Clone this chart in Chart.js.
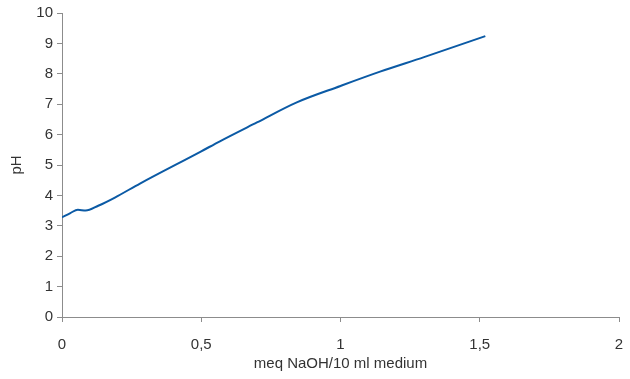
<!DOCTYPE html>
<html>
<head>
<meta charset="utf-8">
<script src="https://cdn.jsdelivr.net/npm/chart.js@4/dist/chart.umd.min.js"></script>
<style>
html,body{margin:0;padding:0;background:#fff;}
#wrap{width:630px;height:379px;position:relative;}
</style>
</head>
<body>
<div id="wrap"><canvas id="c" width="630" height="379"></canvas></div>
<script>
const naohMeq = [0, 0.03, 0.057, 0.085, 0.13, 0.19, 0.28, 0.5, 0.567, 0.7, 0.843, 1.0, 1.142, 1.3, 1.52];
const phValues = [3.28, 3.42, 3.53, 3.50, 3.66, 3.93, 4.39, 5.45, 5.78, 6.4, 7.06, 7.6, 8.07, 8.55, 9.24];
const xTickLabels = {0: '0', 0.5: '0,5', 1: '1', 1.5: '1,5', 2: '2'};
const xTitle = 'meq NaOH/10 ml medium';
const yTitle = 'pH';

const points = naohMeq.map((x, i) => ({x: x, y: phValues[i]}));
const fontFam = '"Liberation Sans", Arial, sans-serif';
const textColor = '#333333';
const axisColor = '#8c8c8c';

new Chart(document.getElementById('c'), {
  type: 'line',
  data: {
    datasets: [{
      data: points,
      borderColor: '#0b5aa5',
      borderWidth: 2,
      pointRadius: 0,
      fill: false,
      cubicInterpolationMode: 'monotone'
    }]
  },
  options: {
    responsive: false,
    animation: false,
    devicePixelRatio: 1,
    plugins: {legend: {display: false}, tooltip: {enabled: false}},
    layout: {padding: {left: 0, right: 11, top: 11, bottom: 0}},
    scales: {
      x: {
        type: 'linear',
        min: 0, max: 2,
        afterFit: (s) => { s.height = 62; s.paddingLeft = 0; s.paddingRight = 0; },
        ticks: {
          stepSize: 0.5,
          color: textColor,
          font: {family: fontFam, size: 15},
          padding: 14,
          maxRotation: 0,
          callback: (v) => xTickLabels[v] !== undefined ? xTickLabels[v] : ''
        },
        grid: {drawOnChartArea: false, drawTicks: true, tickLength: 5, color: axisColor},
        border: {display: true, color: axisColor, width: 1},
        title: {display: true, text: xTitle, color: textColor, font: {family: fontFam, size: 15}, padding: {top: 0, bottom: 6}}
      },
      y: {
        min: 0, max: 10,
        afterFit: (s) => { s.width = 62; },
        ticks: {
          stepSize: 1,
          color: textColor,
          font: {family: fontFam, size: 15},
          padding: 4
        },
        grid: {drawOnChartArea: false, drawTicks: true, tickLength: 5, color: axisColor},
        border: {display: true, color: axisColor, width: 1},
        title: {display: true, text: yTitle, color: textColor, font: {family: fontFam, size: 15}, padding: {top: 8, bottom: 0}}
      }
    }
  }
});
</script>
</body>
</html>
